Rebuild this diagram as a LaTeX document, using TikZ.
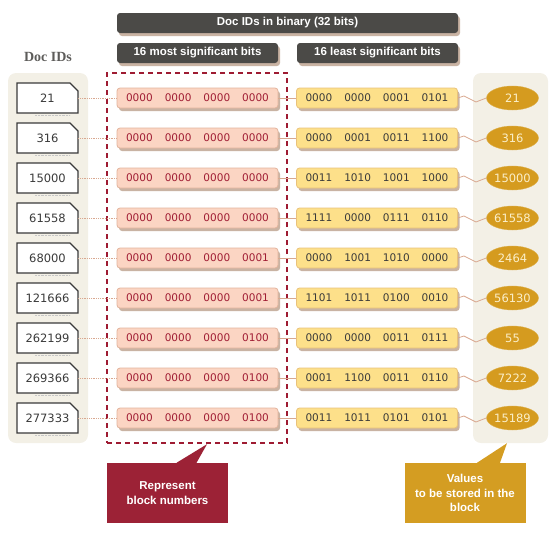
\documentclass[tikz,border=0pt]{standalone}
\usepackage{fontspec}
\setmainfont{DejaVu Sans}
\newfontfamily\hdrfont{Liberation Sans}
\newfontfamily\labelfont{Liberation Serif}
\usetikzlibrary{shadows}
\usetikzlibrary{shapes.geometric}

\definecolor{hdrgray}{HTML}{4B4A47}
\definecolor{barshadow}{HTML}{C9B3A3}
\definecolor{panelbg}{HTML}{F3F0E6}
\definecolor{pinkfill}{HTML}{FBD5C3}
\definecolor{pinkdraw}{HTML}{E2B39C}
\definecolor{pinktext}{HTML}{A01C33}
\definecolor{yelfill}{HTML}{FDE08A}
\definecolor{yeldraw}{HTML}{E9C27A}
\definecolor{gold}{HTML}{D59B1F}
\definecolor{goldtext}{HTML}{FBEFC9}
\definecolor{wire}{HTML}{D9A890}
\definecolor{dashred}{HTML}{9E1B32}
\definecolor{callred}{HTML}{9C2236}
\definecolor{callgold}{HTML}{D49D22}
\definecolor{notegray}{HTML}{3A3A3A}

\tikzset{
  hdrbar/.style={fill=hdrgray, rounded corners=3pt, minimum height=20pt, inner sep=0pt,
    text=white, font=\hdrfont\bfseries\fontsize{11.5}{13}\selectfont,
    drop shadow={shadow xshift=2pt, shadow yshift=-3pt, fill=barshadow, opacity=1}},
  panel/.style={fill=panelbg, rounded corners=8pt, minimum width=#1, minimum height=370pt, inner sep=0pt},
  docid/.style={minimum width=61pt, minimum height=30pt, inner sep=0pt, text=notegray,
    font=\fontsize{11.5}{13}\selectfont},
  notefold/.style={fill=white, draw=notegray, line width=1.1pt, line join=miter},
  bitbox/.style={rounded corners=3pt, minimum width=161pt, minimum height=20pt, inner sep=0pt,
    font=\fontsize{10.5}{12}\selectfont, line width=0.8pt,
    drop shadow={shadow xshift=2pt, shadow yshift=-3pt, fill=barshadow, opacity=1}},
  hibits/.style={bitbox, fill=pinkfill, draw=pinkdraw, text=pinktext},
  lobits/.style={bitbox, fill=yelfill, draw=yeldraw, text=notegray},
  value/.style={ellipse, fill=gold, draw=gold!80!white, minimum width=52pt, minimum height=24pt,
    inner sep=0pt, text=goldtext, font=\fontsize{11.5}{13}\selectfont},
  callout/.style={minimum width=121pt, minimum height=60pt, inner sep=0pt, align=center,
    text=white, font=\hdrfont\bfseries\fontsize{11.5}{14.8}\selectfont},
}

\def\bitrow#1 #2 #3 #4\relax{#1\hspace{12pt}#2\hspace{12pt}#3\hspace{12pt}#4}

\begin{document}
\begin{tikzpicture}[x=1pt,y=-1pt]
 \useasboundingbox (0,0) rectangle (554,536);

    %Panels
    \node[panel=80pt] (idpanel) at (48,258) {};
    \node[panel=75pt] (valpanel) at (510.5,258) {};
    \node[draw=dashred, line width=2.4pt, dash pattern=on 5pt off 4pt,
          minimum width=180pt, minimum height=370pt, inner sep=0pt] (frame) at (197,258) {};

    % Headers
    \node[hdrbar, minimum width=341pt] (bin) at (287.5,23) {Doc IDs in binary (32 bits)};
    \node[hdrbar, minimum width=161pt] (most) at (197.5,53) {16 most significant bits};
    \node[hdrbar, minimum width=161pt] (least) at (377.5,53) {16 least significant bits};
    \node[text=hdrgray!90!white, font=\labelfont\bfseries\fontsize{14}{16}\selectfont] (ids) at (48,57) {Doc IDs};

    % Rows
    \foreach \id/\hi/\lo/\val [count=\i] in {
      21/0000 0000 0000 0000/0000 0000 0001 0101/21,
      316/0000 0000 0000 0000/0000 0001 0011 1100/316,
      15000/0000 0000 0000 0000/0011 1010 1001 1000/15000,
      61558/0000 0000 0000 0000/1111 0000 0111 0110/61558,
      68000/0000 0000 0000 0001/0000 1001 1010 0000/2464,
      121666/0000 0000 0000 0001/1101 1011 0100 0010/56130,
      262199/0000 0000 0000 0100/0000 0000 0011 0111/55,
      269366/0000 0000 0000 0100/0001 1100 0011 0110/7222,
      277333/0000 0000 0000 0100/0011 1011 0101 0101/15189}{
      \pgfmathsetmacro\y{58+40*\i}
      \draw[gray!45, densely dotted] (35,\y+17.5) -- (70,\y+17.5);
      \path[notefold] (17,\y+15) -- (17,\y-15) -- (70,\y-15) -- (78,\y-7) -- (78,\y+15) -- cycle;
      \node[docid] (d\i) at (47.5,\y) {\id};
      \node[hibits] (h\i) at (197.5,\y) {\expandafter\bitrow\hi\relax};
      \node[lobits] (l\i) at (377,\y) {\expandafter\bitrow\lo\relax};
      \node[value] (v\i) at (512.5,\y) {\val};
      \draw[wire, densely dotted, line width=0.8pt] (d\i.east) -- (h\i.west);
      \draw[wire, line width=0.8pt] (h\i.east) -- (l\i.west);
      \draw[wire, line width=0.8pt] (l\i.east) -- ++(6,-2) -- ++(12,6) -- (v\i.west);
    }

    % Callouts
    \node[callout, fill=callred] (blk) at (167.5,493) {Represent\\block numbers};
    \fill[callred] ([xshift=9pt]blk.north) -- ([xshift=10pt]frame.south) -- ([xshift=29pt]blk.north) -- cycle;
    \node[callout, fill=callgold] (store) at (465,493) {Values\\to be stored in the\\block};
    \fill[callgold] ([xshift=12pt]store.north) -- ([xshift=-3.5pt]valpanel.south) -- ([xshift=35pt]store.north) -- cycle;
\end{tikzpicture}
\end{document}
